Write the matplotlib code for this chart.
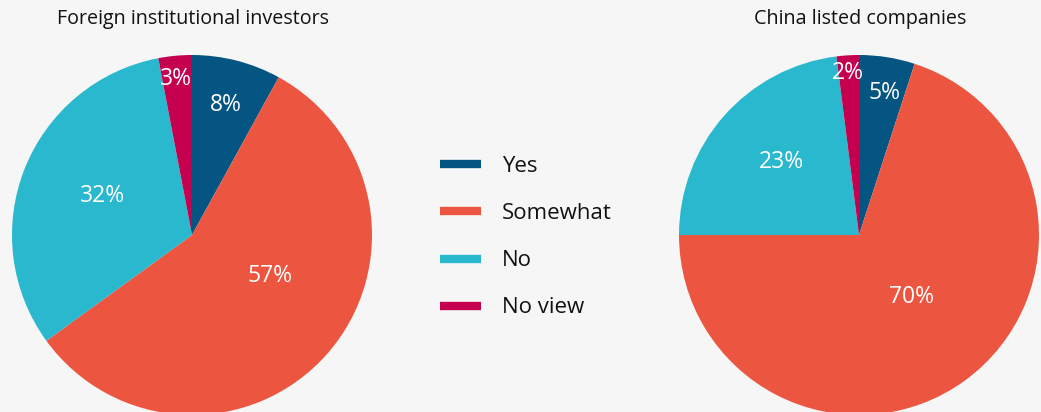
import numpy as np
import matplotlib
matplotlib.use("Agg")
import matplotlib.pyplot as plt

categorias = ['Yes', 'Somewhat', 'No', 'No view']
colores = ['#045582', '#ec5641', '#2ab8ce', '#c4004f']

inversores = [8, 57, 32, 3]      # Foreign institutional investors
empresas = [5, 70, 23, 2]        # China listed companies

# posicion de cada etiqueta: fraccion del radio y giro (grados) respecto al centro de la porcion
dist_inv = [0.745, 0.49, 0.54, 0.87]
giro_inv = [0, 14, -2, 0.5]
dist_emp = [0.80, 0.45, 0.59, 0.90]
giro_emp = [-1.4, 4.5, -2, 0.3]

fondo = '#f6f6f6'
plt.rcParams['font.family'] = ['Open Sans', 'DejaVu Sans']

W, H = 1041, 412
fig = plt.figure(figsize=(W / 100, H / 100), dpi=100, facecolor=fondo)


def eje_pixeles(cx, cy, r):
    # eje cuadrado centrado en (cx, cy) en pixeles, origen arriba a la izquierda
    return fig.add_axes([(cx - r) / W, (H - cy - r) / H, 2 * r / W, 2 * r / H])


def torta(ax, valores, distancias, giros):
    wedges, _ = ax.pie(valores, colors=colores, startangle=90, counterclock=False,
                       radius=1, wedgeprops=dict(linewidth=0))
    for w, v, d, g in zip(wedges, valores, distancias, giros):
        ang = np.deg2rad((w.theta1 + w.theta2) / 2 + g)
        ax.text(d * np.cos(ang), d * np.sin(ang), f'{v}%', color='white',
                fontsize=16.5, ha='center', va='center')
    ax.set_xlim(-1, 1)
    ax.set_ylim(-1, 1)
    ax.set_aspect('equal')
    ax.set_axis_off()


ax1 = eje_pixeles(192, 235, 180)
torta(ax1, inversores, dist_inv, giro_inv)
ax2 = eje_pixeles(859, 235, 180)
torta(ax2, empresas, dist_emp, giro_emp)

fig.text(193 / W, 1 - 19 / H, 'Foreign institutional investors', fontsize=14.2,
         ha='center', va='center', color='#121212')
fig.text(860 / W, 1 - 19 / H, 'China listed companies', fontsize=14.2,
         ha='center', va='center', color='#121212')

# leyenda manual en el centro
y0, paso = 164, 47.3
for i, (cat, col) in enumerate(zip(categorias, colores)):
    y = 1 - (y0 + i * paso) / H
    fig.add_artist(plt.Line2D([440 / W, 481 / W], [y, y], color=col, linewidth=6,
                              solid_capstyle='butt'))
    fig.text(502 / W, y - 2 / H, cat, fontsize=16, ha='left', va='center', color='#121212')

fig.savefig('out.png', dpi=100, facecolor=fondo)
